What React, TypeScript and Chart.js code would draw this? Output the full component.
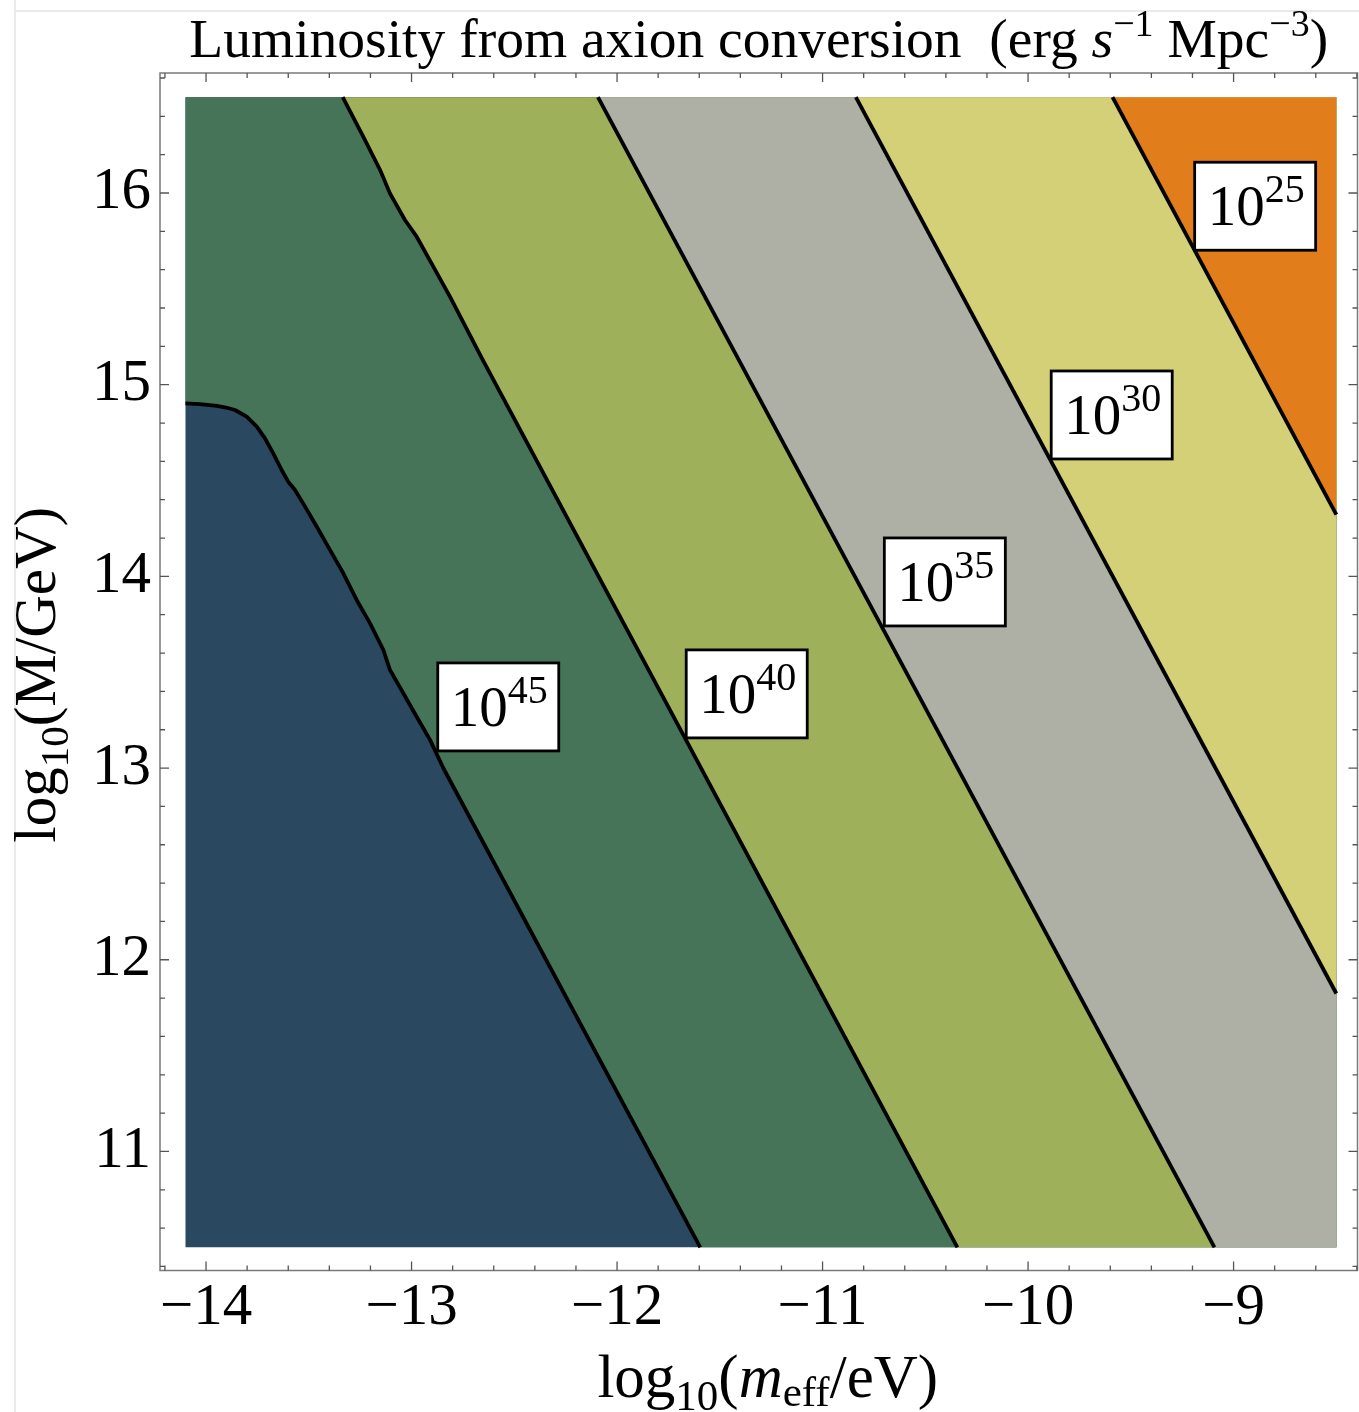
import React, { useEffect, useRef } from 'react';
import { Chart, registerables } from 'chart.js';

Chart.register(...registerables);

// ---- data ----
const xDomain = [-14.1, -8.5];
const yDomain = [10.5, 16.5];
const xAxisRange = [-14.224, -8.397];
const yAxisRange = [10.379, 16.626];

// contour 10^45 (dark blue / dark green)
const c45x = [-14.1, -14.029, -13.948, -13.903, -13.859, -13.802, -13.753, -13.713, -13.673, -13.632, -13.6, -13.567, -13.518, -13.461, -13.397, -13.332, -13.267, -13.202, -13.137, -13.105, -13.04, -12.975, -12.91, -12.845, -11.595];
const c45y = [14.903, 14.899, 14.889, 14.881, 14.868, 14.833, 14.781, 14.72, 14.642, 14.555, 14.494, 14.451, 14.364, 14.259, 14.138, 14.016, 13.877, 13.755, 13.616, 13.512, 13.39, 13.268, 13.147, 12.999, 10.5];
// contour 10^40
const c40x = [-13.335, -13.235, -13.153, -13.105, -13.032, -12.975, -12.894, -12.813, -12.658, -10.344];
const c40y = [16.5, 16.294, 16.12, 15.998, 15.859, 15.772, 15.616, 15.459, 15.138, 10.5];
// contour 10^35
const c35x = [-12.093, -9.093];
const c35y = [16.5, 10.5];
// contour 10^30
const c30x = [-10.838, -8.5];
const c30y = [16.5, 11.824];
// contour 10^25
const c25x = [-9.589, -8.5];
const c25y = [16.5, 14.322];

const bandColors = ['#2a4860', '#467458', '#9eb05a', '#aeafa5', '#d4d078', '#e17e1b'];

// contour labels
const labelExp = ['45', '40', '35', '30', '25'];
const labelX = [-12.578, -11.369, -10.405, -9.593, -8.895];
const labelY = [13.319, 13.387, 13.971, 14.842, 15.931];

const serif = '"Liberation Serif", "Times New Roman", Times, serif';

type Pt = { x: number; y: number };
const toPts = (xs: number[], ys: number[]): Pt[] => xs.map((x, i) => ({ x, y: ys[i] }));

function rightRegion(xs: number[], ys: number[]): Pt[] {
  const pts = toPts(xs, ys);
  const first = pts[0];
  const last = pts[pts.length - 1];
  if (last.y <= yDomain[0] + 1e-9) pts.push({ x: xDomain[1], y: yDomain[0] });
  pts.push({ x: xDomain[1], y: yDomain[1] });
  if (first.x <= xDomain[0] + 1e-9) pts.push({ x: xDomain[0], y: yDomain[1] });
  pts.push({ x: first.x, y: first.y });
  return pts;
}

const rect: Pt[] = [
  { x: xDomain[0], y: yDomain[0] },
  { x: xDomain[1], y: yDomain[0] },
  { x: xDomain[1], y: yDomain[1] },
  { x: xDomain[0], y: yDomain[1] },
  { x: xDomain[0], y: yDomain[0] },
];

const contours = [
  [c45x, c45y],
  [c40x, c40y],
  [c35x, c35y],
  [c30x, c30y],
  [c25x, c25y],
];

type Run = { t: string; font: string; dy: number };

function runsWidth(ctx: CanvasRenderingContext2D, runs: Run[]) {
  let w = 0;
  for (const r of runs) {
    ctx.font = r.font;
    w += ctx.measureText(r.t).width;
  }
  return w;
}
function drawRuns(ctx: CanvasRenderingContext2D, runs: Run[], cx: number, baseline: number) {
  const w = runsWidth(ctx, runs);
  let x = cx - w / 2;
  ctx.textAlign = 'left';
  ctx.textBaseline = 'alphabetic';
  for (const r of runs) {
    ctx.font = r.font;
    ctx.fillText(r.t, x, baseline + r.dy);
    x += ctx.measureText(r.t).width;
  }
}

const decorPlugin = {
  id: 'decor',
  afterDatasetsDraw(chart: any) {
    const ctx: CanvasRenderingContext2D = chart.ctx;
    const xs = chart.scales.x;
    const ys = chart.scales.y;
    ctx.save();
    for (let i = 0; i < labelExp.length; i++) {
      const px = xs.getPixelForValue(labelX[i]);
      const py = ys.getPixelForValue(labelY[i]);
      const w = 121;
      const h = 88;
      ctx.fillStyle = '#ffffff';
      ctx.fillRect(px - w / 2, py - h / 2, w, h);
      ctx.strokeStyle = '#000000';
      ctx.lineWidth = 2.8;
      ctx.strokeRect(px - w / 2, py - h / 2, w, h);
      ctx.fillStyle = '#000000';
      drawRuns(
        ctx,
        [
          { t: '10', font: `57px ${serif}`, dy: 0 },
          { t: labelExp[i], font: `40px ${serif}`, dy: -23 },
        ],
        px + 1,
        py + 19
      );
    }
    ctx.restore();
  },
  afterDraw(chart: any) {
    const ctx: CanvasRenderingContext2D = chart.ctx;
    const { left, right, top, bottom } = chart.chartArea;
    const xs = chart.scales.x;
    const ys = chart.scales.y;
    ctx.save();

    // faint outer image border
    ctx.strokeStyle = '#e4e4e4';
    ctx.lineWidth = 1.5;
    ctx.beginPath();
    ctx.moveTo(15, 0);
    ctx.lineTo(15, chart.height);
    ctx.moveTo(15, 11);
    ctx.lineTo(chart.width, 11);
    ctx.stroke();

    // frame
    ctx.strokeStyle = '#7a7a7a';
    ctx.lineWidth = 1.5;
    ctx.strokeRect(left, top, right - left, bottom - top);

    // inward ticks
    ctx.strokeStyle = '#555555';
    ctx.lineWidth = 1.3;
    ctx.beginPath();
    const kx0 = Math.ceil(xs.min * 5 - 1e-9);
    const kx1 = Math.floor(xs.max * 5 + 1e-9);
    for (let k = kx0; k <= kx1; k++) {
      const p = xs.getPixelForValue(k / 5);
      const len = k % 5 === 0 ? 9 : 5;
      ctx.moveTo(p, bottom);
      ctx.lineTo(p, bottom - len);
      ctx.moveTo(p, top);
      ctx.lineTo(p, top + len);
    }
    const ky0 = Math.ceil(ys.min * 5 - 1e-9);
    const ky1 = Math.floor(ys.max * 5 + 1e-9);
    for (let k = ky0; k <= ky1; k++) {
      const p = ys.getPixelForValue(k / 5);
      const len = k % 5 === 0 ? 9 : 5;
      ctx.moveTo(left, p);
      ctx.lineTo(left + len, p);
      ctx.moveTo(right, p);
      ctx.lineTo(right - len, p);
    }
    ctx.stroke();

    ctx.fillStyle = '#000000';
    // title
    drawRuns(
      ctx,
      [
        { t: 'Luminosity from axion conversion  (erg ', font: `55.5px ${serif}`, dy: 0 },
        { t: 's', font: `italic 55.5px ${serif}`, dy: 0 },
        { t: '\u22121', font: `38px ${serif}`, dy: -21 },
        { t: ' Mpc', font: `55.5px ${serif}`, dy: 0 },
        { t: '\u22123', font: `38px ${serif}`, dy: -21 },
        { t: ')', font: `55.5px ${serif}`, dy: 0 },
      ],
      (left + right) / 2,
      57
    );

    // x axis title
    drawRuns(
      ctx,
      [
        { t: 'log', font: `61px ${serif}`, dy: 0 },
        { t: '10', font: `43px ${serif}`, dy: 13 },
        { t: '(', font: `61px ${serif}`, dy: 0 },
        { t: 'm', font: `italic 61px ${serif}`, dy: 0 },
        { t: 'eff', font: `43px ${serif}`, dy: 9 },
        { t: '/eV)', font: `61px ${serif}`, dy: 0 },
      ],
      (left + right) / 2 + 9,
      1397
    );

    // y axis title
    ctx.save();
    ctx.translate(55, (top + bottom) / 2 + 3);
    ctx.rotate(-Math.PI / 2);
    drawRuns(
      ctx,
      [
        { t: 'log', font: `59px ${serif}`, dy: 0 },
        { t: '10', font: `41px ${serif}`, dy: 13 },
        { t: '(M/GeV)', font: `59px ${serif}`, dy: 0 },
      ],
      0,
      0
    );
    ctx.restore();

    ctx.restore();
  },
};

const fmt = (value: any) => {
  const v = Math.round(Number(value));
  return v < 0 ? '\u2212' + Math.abs(v) : String(v);
};

export default function App() {
  const ref = useRef<HTMLCanvasElement>(null);
  useEffect(() => {
    document.body.style.margin = '0';
    const canvas = ref.current;
    if (!canvas) return;

    const fillSets: any[] = [
      {
        data: rect,
        backgroundColor: bandColors[0],
        borderColor: 'rgba(0,0,0,0)',
        borderWidth: 0,
        fill: 'shape',
        order: 30,
      },
      ...contours.map(([cx, cy], i) => ({
        data: rightRegion(cx, cy),
        backgroundColor: bandColors[i + 1],
        borderColor: 'rgba(0,0,0,0)',
        borderWidth: 0,
        fill: 'shape',
        order: 29 - i,
      })),
    ];
    const lineSets: any[] = contours.map(([cx, cy]) => ({
      data: toPts(cx, cy),
      borderColor: '#000000',
      borderWidth: 3.8,
      fill: false,
      order: 1,
    }));

    const chart = new Chart(canvas, {
      type: 'line',
      data: {
        datasets: [...fillSets, ...lineSets].map((d) => ({
          pointRadius: 0,
          pointHoverRadius: 0,
          tension: 0,
          borderJoinStyle: 'round',
          borderCapStyle: 'butt',
          ...d,
        })),
      },
      options: {
        responsive: false,
        maintainAspectRatio: false,
        devicePixelRatio: 1,
        animation: false,
        events: [],
        layout: { padding: { top: 73, right: 1.5, bottom: 0, left: 0 } },
        plugins: {
          legend: { display: false },
          tooltip: { enabled: false },
          title: { display: false },
        },
        scales: {
          x: {
            type: 'linear',
            min: xAxisRange[0],
            max: xAxisRange[1],
            afterFit: (s: any) => {
              s.height = 141.5;
            },
            grid: { display: false, drawTicks: false },
            border: { display: false },
            ticks: {
              stepSize: 1,
              includeBounds: false,
              autoSkip: false,
              maxRotation: 0,
              minRotation: 0,
              padding: 3,
              color: '#000000',
              font: { family: serif, size: 59 },
              callback: fmt,
            },
          },
          y: {
            type: 'linear',
            min: yAxisRange[0],
            max: yAxisRange[1],
            afterFit: (s: any) => {
              s.width = 160;
            },
            grid: { display: false, drawTicks: false },
            border: { display: false },
            ticks: {
              stepSize: 1,
              includeBounds: false,
              autoSkip: false,
              padding: 9,
              color: '#000000',
              font: { family: serif, size: 59 },
              callback: fmt,
            },
          },
        },
      } as any,
      plugins: [decorPlugin],
    } as any);
    return () => chart.destroy();
  }, []);
  return (
    <canvas
      ref={ref}
      width={1359}
      height={1412}
      style={{ display: 'block', width: 1359, height: 1412 }}
    />
  );
}
